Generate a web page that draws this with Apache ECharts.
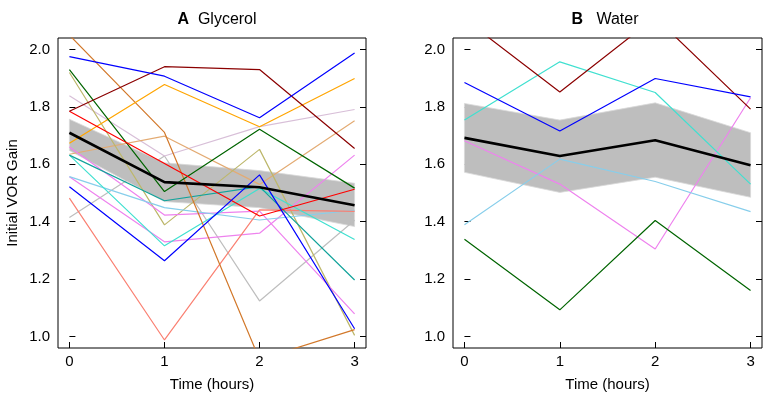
<!DOCTYPE html>
<html>
<head>
<meta charset="utf-8">
<script src="https://cdn.jsdelivr.net/npm/echarts@6/dist/echarts.min.js"></script>
<style>
html,body{margin:0;padding:0;background:#fff;}
#chart{width:765px;height:399px;}
</style>
</head>
<body>
<div id="chart"></div>
<script>
// ---- data ----
const timePoints = [0, 1, 2, 3];
const xTickValues = [0, 1, 2, 3];
const yTickValues = [1.0, 1.2, 1.4, 1.6, 1.8, 2.0];

// Panel A: Glycerol (individual subjects)
const glyBlue1     = [1.975, 1.907, 1.762, 1.988];
const glyDarkRed   = [1.785, 1.940, 1.930, 1.655];
const glyOrange    = [1.673, 1.878, 1.731, 1.899];
const glyPeru      = [2.050, 1.711, 0.920, 1.024];
const glyDarkGreen = [1.930, 1.505, 1.722, 1.517];
const glyKhaki     = [1.920, 1.389, 1.652, 1.004];
const glyThistle   = [1.839, 1.629, 1.731, 1.791];
const glyTan       = [1.635, 1.698, 1.530, 1.752];
const glyRed       = [1.785, 1.603, 1.420, 1.513];
const glyDarkCyan  = [1.632, 1.473, 1.522, 1.197];
const glyTurquoise = [1.632, 1.316, 1.516, 1.338];
const glyViolet1   = [1.557, 1.330, 1.360, 1.632];
const glyViolet2   = [1.660, 1.423, 1.437, 1.079];
const glySkyBlue   = [1.557, 1.449, 1.406, 1.440];
const glyBlue2     = [1.522, 1.264, 1.563, 1.027];
const glyGray      = [1.415, 1.629, 1.124, 1.405];
const glySalmon    = [1.482, 0.988, 1.441, 1.436];
const glyMean      = [1.710, 1.538, 1.520, 1.457];
const glyUpper     = [1.757, 1.605, 1.578, 1.534];
const glyLower     = [1.648, 1.470, 1.449, 1.383];

// Panel B: Water
const watDarkRed   = [2.106, 1.852, 2.112, 1.792];
const watTurquoise = [1.754, 1.957, 1.850, 1.531];
const watBlue      = [1.885, 1.716, 1.899, 1.835];
const watViolet    = [1.682, 1.531, 1.305, 1.832];
const watSkyBlue   = [1.389, 1.618, 1.540, 1.435];
const watDarkGreen = [1.339, 1.093, 1.404, 1.160];
const watMean      = [1.692, 1.629, 1.684, 1.597];
const watUpper     = [1.812, 1.754, 1.814, 1.710];
const watLower     = [1.572, 1.502, 1.555, 1.485];

const glySubjects = [
  [glyGray, '#BEBEBE'], [glyThistle, '#D8BFD8'], [glyTan, '#E3AB73'], [glyKhaki, '#BDB76B'],
  [glyViolet1, '#EE82EE'], [glyViolet2, '#EE82EE'], [glySkyBlue, '#87CEEB'], [glySalmon, '#FA8072'],
  [glyTurquoise, '#40E0D0'], [glyDarkCyan, '#12A39B'], [glyPeru, '#D2782A'], [glyOrange, '#FFA500'],
  [glyDarkGreen, '#006400'], [glyRed, '#FF0000'], [glyDarkRed, '#8B0000'], [glyBlue2, '#0000FF'],
  [glyBlue1, '#0000FF']
];
const watSubjects = [
  [watViolet, '#EE82EE'], [watSkyBlue, '#87CEEB'], [watTurquoise, '#40E0D0'],
  [watDarkGreen, '#006400'], [watDarkRed, '#8B0000'], [watBlue, '#0000FF']
];

const FONT = "'Liberation Sans', Arial, sans-serif";
const chart = echarts.init(document.getElementById('chart'), null, {renderer: 'canvas'});

function pairs(arr) { return timePoints.map((t, i) => [t, arr[i]]); }

function bandSeries(gi, lower, upper) {
  return {
    type: 'custom', xAxisIndex: gi, yAxisIndex: gi * 2, silent: true, z: 1,
    data: timePoints.map((t, i) => [t, lower[i], upper[i]]),
    encode: {x: 0, y: [1, 2]},
    renderItem: function (params, api) {
      if (params.dataIndex !== 0) return null;
      const pts = [];
      for (let i = 0; i < timePoints.length; i++) pts.push(api.coord([timePoints[i], upper[i]]));
      for (let i = timePoints.length - 1; i >= 0; i--) pts.push(api.coord([timePoints[i], lower[i]]));
      return {type: 'polygon', shape: {points: pts}, style: {fill: '#BEBEBE', stroke: '#D9D9D9', lineWidth: 0.8}};
    }
  };
}
function lineSeries(gi, arr, color, width, z) {
  return {
    type: 'line', xAxisIndex: gi, yAxisIndex: gi * 2, data: pairs(arr),
    symbol: 'none', clip: true, silent: true, animation: false, z: z,
    lineStyle: {color: color, width: width}
  };
}

const grids = [
  {left: 58, top: 38, width: 308, height: 310, show: true, borderColor: '#000', borderWidth: 1},
  {left: 453, top: 38, width: 309, height: 310, show: true, borderColor: '#000', borderWidth: 1}
];

const xAxes = [0, 1].map(gi => ({
  type: 'value', gridIndex: gi, min: -0.12, max: 3.12,
  name: 'Time (hours)', nameLocation: 'middle', nameGap: 29,
  nameTextStyle: {fontFamily: FONT, fontSize: 15, color: '#000'},
  axisLine: {show: false},
  axisTick: {show: true, inside: true, length: 6, customValues: xTickValues, lineStyle: {color: '#000', width: 1}},
  axisLabel: {show: true, margin: 6, customValues: xTickValues, fontFamily: FONT, fontSize: 15, color: '#000',
    formatter: v => String(Math.round(v))},
  splitLine: {show: false}
}));

const yAxes = [];
[0, 1].forEach(gi => {
  yAxes.push({
    type: 'value', gridIndex: gi, min: 0.96, max: 2.04, position: 'left',
    name: gi === 0 ? 'Initial VOR Gain' : '', nameLocation: 'middle', nameGap: 38,
    nameTextStyle: {fontFamily: FONT, fontSize: 15, color: '#000'},
    axisLine: {show: false},
    axisTick: {show: true, inside: true, length: 6, customValues: yTickValues, lineStyle: {color: '#000', width: 1}},
    axisLabel: {show: true, margin: 8, customValues: yTickValues, fontFamily: FONT, fontSize: 15, color: '#000',
      formatter: v => v.toFixed(1)},
    splitLine: {show: false}
  });
  yAxes.push({
    type: 'value', gridIndex: gi, min: 0.96, max: 2.04, position: 'right',
    axisLine: {show: false},
    axisTick: {show: true, inside: true, length: 6, customValues: yTickValues, lineStyle: {color: '#000', width: 1}},
    axisLabel: {show: false},
    splitLine: {show: false}
  });
});

const series = [];
series.push(bandSeries(0, glyLower, glyUpper));
glySubjects.forEach((s, i) => series.push(lineSeries(0, s[0], s[1], 1.2, 2)));
series.push(lineSeries(0, glyMean, '#000', 2.6, 5));
series.push(bandSeries(1, watLower, watUpper));
watSubjects.forEach((s, i) => series.push(lineSeries(1, s[0], s[1], 1.2, 2)));
series.push(lineSeries(1, watMean, '#000', 2.6, 5));

const option = {
  animation: false,
  backgroundColor: '#fff',
  title: [
    {text: '{b|A}  Glycerol', left: 212, top: 7, textAlign: 'center',
      textStyle: {fontFamily: FONT, fontSize: 16, fontWeight: 'normal', color: '#000',
        rich: {b: {fontFamily: FONT, fontSize: 16, fontWeight: 'bold', color: '#000'}}}},
    {text: '{b|B}   Water', left: 600, top: 7, textAlign: 'center',
      textStyle: {fontFamily: FONT, fontSize: 16, fontWeight: 'normal', color: '#000',
        rich: {b: {fontFamily: FONT, fontSize: 16, fontWeight: 'bold', color: '#000'}}}}
  ],
  grid: grids,
  xAxis: xAxes,
  yAxis: yAxes,
  series: series
};
chart.setOption(option);
</script>
</body>
</html>
